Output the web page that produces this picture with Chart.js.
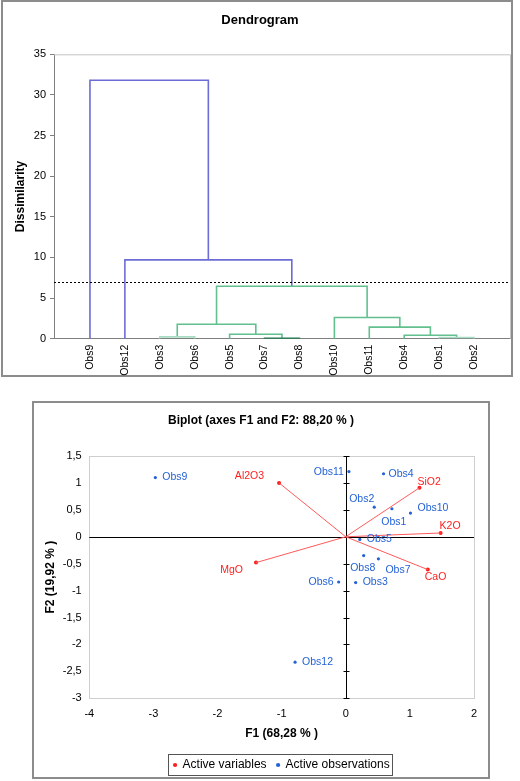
<!DOCTYPE html>
<html>
<head>
<meta charset="utf-8">
<script src="https://cdn.jsdelivr.net/npm/chart.js@4.4.1/dist/chart.umd.min.js"></script>
<style>
  body { margin: 0; background: #fff; width: 520px; height: 781px; position: relative; overflow: hidden; }
  .frame { position: absolute; border: 2px solid #8c8c8c; box-sizing: border-box; }
  canvas { position: absolute; }
</style>
</head>
<body>
<div class="frame" style="left:1px;top:0px;width:512px;height:377px"></div>
<canvas id="dendro" width="520" height="378" style="left:0;top:0"></canvas>
<div class="frame" style="left:32px;top:401px;width:458px;height:378px"></div>
<canvas id="biplot" width="450" height="381" style="left:36px;top:400px"></canvas>
<script>
// ---- dendrogram data ----
const leaves = ['Obs9', 'Obs12', 'Obs3', 'Obs6', 'Obs5', 'Obs7', 'Obs8', 'Obs10', 'Obs11', 'Obs4', 'Obs1', 'Obs2'];
// nodes 0-11 are the leaves above, each merge k creates node 12 + k
const mergeLeft = [5, 10, 2, 9, 4, 8, 14, 7, 18, 1, 0];
const mergeRight = [6, 11, 3, 13, 12, 15, 16, 17, 19, 20, 21];
const mergeHeight = [0.05, 0.15, 0.22, 0.42, 0.55, 1.42, 1.78, 2.6, 6.45, 9.7, 31.8];
const truncation = 7.0;
const dissimTicks = [0, 5, 10, 15, 20, 25, 30, 35];

// ---- biplot data ----
const obsNames = ['Obs1', 'Obs2', 'Obs3', 'Obs4', 'Obs5', 'Obs6', 'Obs7', 'Obs8', 'Obs9', 'Obs10', 'Obs11', 'Obs12'];
const obsF1 = [0.72, 0.445, 0.155, 0.59, 0.22, -0.11, 0.51, 0.28, -2.97, 1.01, 0.05, -0.79];
const obsF2 = [0.52, 0.55, -0.85, 1.17, -0.05, -0.84, -0.41, -0.35, 1.10, 0.44, 1.21, -2.33];
const varNames = ['SiO2', 'Al2O3', 'MgO', 'CaO', 'K2O'];
const varF1 = [1.15, -1.04, -1.40, 1.28, 1.48];
const varF2 = [0.91, 1.00, -0.48, -0.61, 0.07];

// styles
const linkColors = ['#1f7a4f', '#a6dcc2', '#a6dcc2', '#62c08f', '#62c08f', '#62c08f', '#62c08f', '#62c08f', '#62c08f', '#6c6cd4', '#6c6cd4'];
const obsLabelPlace = [[2, 13, 'center'], [0, -8, 'right'], [7, 0, 'left'], [5, 0, 'left'], [7, 0, 'left'], [-5, 0, 'right'],
  [7, 11, 'left'], [-1, 12.5, 'center'], [7, 0, 'left'], [7, -4.5, 'left'], [-5, 0, 'right'], [7, 0, 'left']];
const varLabelPlace = [[-2, -6, 'left'], [-15, -6.5, 'right'], [-13, 7.5, 'right'], [-3, 7.5, 'left'], [-1, -6.5, 'left']];

const BLUE = '#2462d6';
const RED = '#ff1e1e';

Chart.defaults.font.family = '"Liberation Sans", Arial, sans-serif';
Chart.defaults.color = '#000';
Chart.defaults.animation = false;

// ---------- dendrogram ----------
const pos = leaves.map((_, i) => i);
const hgt = leaves.map(() => 0);
const linkSets = mergeHeight.map((h, k) => {
  const a = mergeLeft[k], b = mergeRight[k];
  const ds = {
    data: [{x: pos[a], y: hgt[a]}, {x: pos[a], y: h}, {x: pos[b], y: h}, {x: pos[b], y: hgt[b]}],
    showLine: true,
    borderColor: linkColors[k],
    borderWidth: 1.6,
    pointRadius: 0
  };
  pos.push((pos[a] + pos[b]) / 2);
  hgt.push(h);
  return ds;
});

const dendroFrame = {
  id: 'dendroFrame',
  beforeDatasetsDraw(chart) {
    const {ctx, chartArea: a} = chart;
    ctx.save();
    ctx.strokeStyle = '#c4c4c4';
    ctx.lineWidth = 1;
    ctx.beginPath();
    ctx.moveTo(a.left, a.top + 0.5);
    ctx.lineTo(a.right + 0.5, a.top + 0.5);
    ctx.lineTo(a.right + 0.5, a.bottom);
    ctx.stroke();
    ctx.restore();
  },
  afterDatasetsDraw(chart) {
    const {ctx, chartArea: a, scales: {y}} = chart;
    const py = Math.round(y.getPixelForValue(truncation)) + 0.5;
    ctx.save();
    ctx.strokeStyle = '#000';
    ctx.lineWidth = 1;
    ctx.setLineDash([2, 2]);
    ctx.beginPath();
    ctx.moveTo(a.left, py);
    ctx.lineTo(a.right, py);
    ctx.stroke();
    ctx.restore();
  }
};

new Chart(document.getElementById('dendro'), {
  type: 'scatter',
  data: { datasets: linkSets },
  options: {
    responsive: false,
    devicePixelRatio: 1,
    layout: { padding: { left: 10, right: 10, top: 0, bottom: 0 } },
    plugins: {
      legend: { display: false },
      tooltip: { enabled: false },
      title: {
        display: true,
        text: 'Dendrogram',
        font: { size: 13, weight: 'bold' },
        padding: { top: 12.2, bottom: 26.5 }
      }
    },
    scales: {
      x: {
        type: 'linear',
        min: -1.03,
        max: leaves.length - 1 + 1.03,
        afterFit: s => { s.height = 39.3; },
        afterBuildTicks: s => { s.ticks = leaves.map((_, i) => ({ value: i })); },
        grid: { drawOnChartArea: false, drawTicks: false },
        border: { color: '#808080', width: 1 },
        ticks: {
          autoSkip: false,
          minRotation: 90,
          maxRotation: 90,
          padding: 6,
          font: { size: 10.5 },
          callback: v => leaves[v]
        }
      },
      y: {
        min: 0,
        max: 35,
        afterFit: s => { s.width = 44; },
        afterBuildTicks: s => { s.ticks = dissimTicks.map(v => ({ value: v })); },
        grid: { drawOnChartArea: false, drawTicks: true, tickLength: 4, color: '#808080' },
        border: { color: '#808080', width: 1 },
        ticks: { padding: 4, font: { size: 11 } },
        title: {
          display: true,
          text: 'Dissimilarity',
          font: { size: 12, weight: 'bold' },
          padding: { top: 3.8, bottom: 0 }
        }
      }
    }
  },
  plugins: [dendroFrame]
});

// ---------- biplot ----------
const vectorSets = varNames.map((n, i) => ({
  label: n,
  data: [{x: 0, y: 0}, {x: varF1[i], y: varF2[i]}],
  showLine: true,
  borderColor: '#ff5a5a',
  borderWidth: 1,
  pointRadius: 0
}));

const biplotDecor = {
  id: 'biplotDecor',
  beforeDatasetsDraw(chart) {
    const {ctx, chartArea: a, scales: {x, y}} = chart;
    const x0 = Math.round(x.getPixelForValue(0)) + 0.5;
    const y0 = Math.round(y.getPixelForValue(0)) + 0.5;
    ctx.save();
    ctx.strokeStyle = '#cfcfcf';
    ctx.lineWidth = 1;
    ctx.strokeRect(Math.round(a.left) + 0.5, Math.round(a.top) + 0.5, Math.round(a.right - a.left), Math.round(a.bottom - a.top));
    ctx.strokeStyle = '#000';
    ctx.beginPath();
    ctx.moveTo(a.left, y0); ctx.lineTo(a.right, y0);
    ctx.moveTo(x0, a.top); ctx.lineTo(x0, a.bottom);
    y.ticks.forEach(t => {
      const py = Math.round(y.getPixelForValue(t.value)) + 0.5;
      ctx.moveTo(x0 - 3, py); ctx.lineTo(x0 + 3, py);
    });
    ctx.stroke();
    ctx.restore();
  },
  afterDatasetsDraw(chart) {
    const {ctx} = chart;
    const n = chart.data.datasets.length;
    const varMeta = chart.getDatasetMeta(n - 2);
    const obsMeta = chart.getDatasetMeta(n - 1);
    ctx.save();
    ctx.font = '10.5px "Liberation Sans", Arial, sans-serif';
    ctx.textBaseline = 'middle';
    const put = (meta, names, place, color) => {
      ctx.fillStyle = color;
      meta.data.forEach((pt, i) => {
        const [dx, dy, al] = place[i];
        ctx.textAlign = al;
        ctx.fillText(names[i], pt.x + dx, pt.y + dy);
      });
    };
    put(varMeta, varNames, varLabelPlace, RED);
    put(obsMeta, obsNames, obsLabelPlace, BLUE);
    ctx.restore();
  },
  afterDraw(chart) {
    const lg = chart.legend;
    if (!lg || !lg.legendHitBoxes.length) return;
    const hb = lg.legendHitBoxes;
    const first = hb[0], last = hb[hb.length - 1];
    const ctx = chart.ctx;
    ctx.save();
    ctx.strokeStyle = '#555';
    ctx.lineWidth = 1;
    const left = Math.round(first.left - 6) + 0.5;
    const right = Math.round(last.left + last.width + 2) + 0.5;
    const top = Math.round(first.top - 5) + 0.5;
    ctx.strokeRect(left, top, right - left, 21);
    ctx.restore();
  }
};

const commaFmt = v => String(v).replace('.', ',');

new Chart(document.getElementById('biplot'), {
  type: 'scatter',
  data: {
    datasets: [
      ...vectorSets,
      {
        label: 'Active variables',
        data: varF1.map((v, i) => ({x: v, y: varF2[i]})),
        backgroundColor: RED,
        borderColor: RED,
        pointStyle: 'circle',
        pointRadius: 2,
        borderWidth: 0
      },
      {
        label: 'Active observations',
        data: obsF1.map((v, i) => ({x: v, y: obsF2[i]})),
        backgroundColor: BLUE,
        borderColor: BLUE,
        pointStyle: 'circle',
        pointRadius: 1.6,
        borderWidth: 0
      }
    ]
  },
  options: {
    responsive: false,
    devicePixelRatio: 1,
    layout: { padding: { left: 10.3, right: 10.3, top: 0, bottom: 0 } },
    plugins: {
      tooltip: { enabled: false },
      title: {
        display: true,
        text: 'Biplot (axes F1 and F2: 88,20 % )',
        font: { size: 12, weight: 'bold' },
        padding: { top: 13.5, bottom: 28.1 }
      },
      legend: {
        position: 'bottom',
        fullSize: false,
        labels: {
          usePointStyle: true,
          boxWidth: 3,
          boxHeight: 3,
          padding: 10,
          font: { size: 12 },
          color: '#000',
          filter: item => item.text.startsWith('Active')
        }
      }
    },
    scales: {
      x: {
        min: -4,
        max: 2,
        afterFit: s => { s.height = 50.7; },
        grid: { display: false, drawTicks: false },
        border: { display: false },
        ticks: { stepSize: 1, padding: 9, font: { size: 11 } },
        title: {
          display: true,
          text: 'F1 (68,28 % )',
          font: { size: 12, weight: 'bold' },
          padding: { top: 0, bottom: 7.8 }
        }
      },
      y: {
        min: -3,
        max: 1.5,
        afterFit: s => { s.width = 43; },
        grid: { display: false, drawTicks: false },
        border: { display: false },
        ticks: { stepSize: 0.5, padding: 7.6, font: { size: 11 }, callback: commaFmt },
        title: {
          display: true,
          text: 'F2 (19,92 % )',
          font: { size: 12, weight: 'bold' },
          padding: { top: -2.8, bottom: 0 }
        }
      }
    }
  },
  plugins: [biplotDecor]
});
</script>
</body>
</html>
